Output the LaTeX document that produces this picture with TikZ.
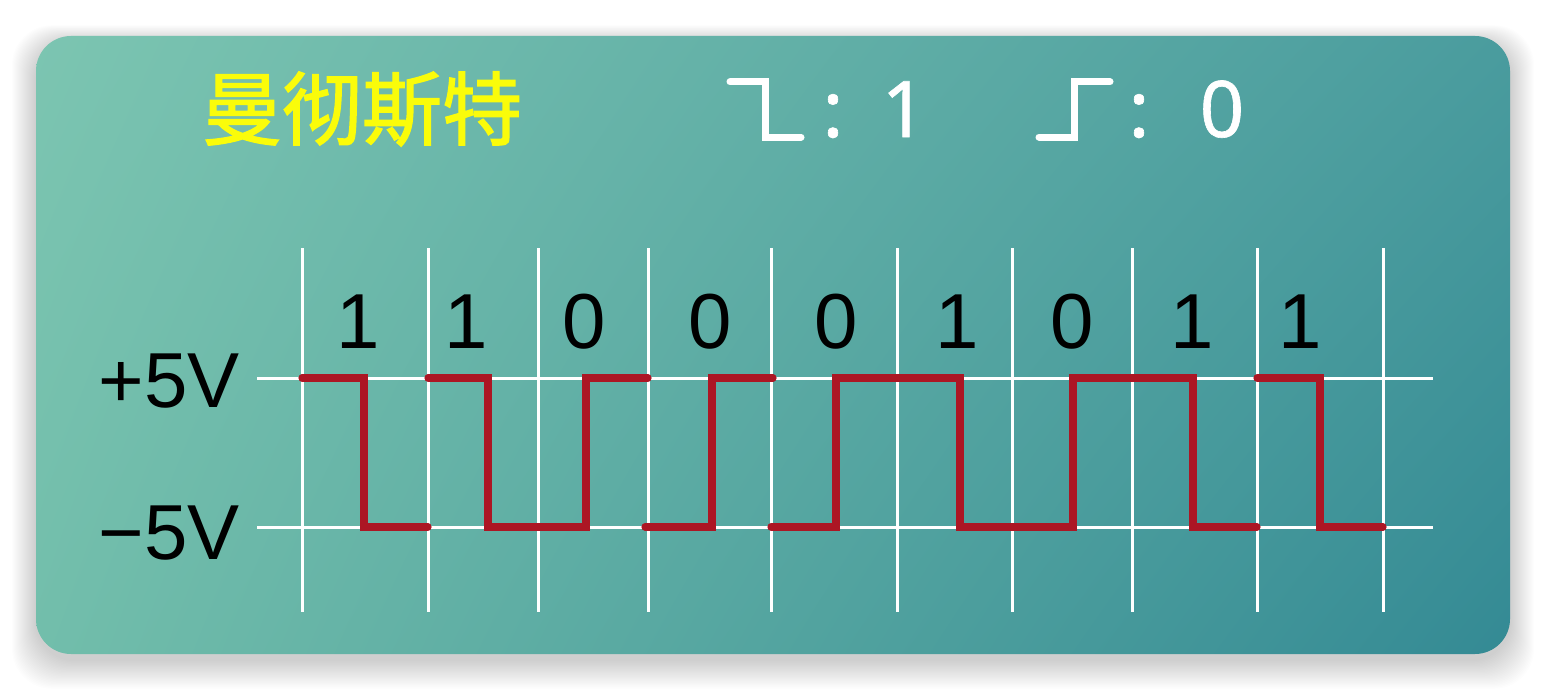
\documentclass[tikz,border=0pt]{standalone}
\usepackage{fontspec}
\usetikzlibrary{shadings}
\setmainfont{Liberation Sans}
\newfontfamily\cjktitle{Noto Sans CJK SC}[FakeBold=1.6]
\newfontfamily\legendfont{Noto Sans}[FakeBold=0.8]
\definecolor{cardTL}{RGB}{124,197,177}
\definecolor{cardTR}{RGB}{74,156,158}
\definecolor{cardBL}{RGB}{114,190,171}
\definecolor{cardBR}{RGB}{52,138,148}
\definecolor{sigred}{RGB}{172,22,36}
\definecolor{titleyellow}{RGB}{250,252,10}
\tikzset{
  gridline/.style={draw=white, line width=1.5pt},
  signal/.style={draw=sigred, line width=3.6pt, line cap=round, line join=miter},
  legendsym/.style={draw=white, line width=3.5pt, line cap=round, line join=miter},
  bitlabel/.style={font=\fontsize{39}{39}\selectfont, text=black, anchor=base, inner sep=0pt},
  voltlabel/.style={font=\fontsize{39}{39}\selectfont, text=black, anchor=base east, inner sep=0pt},
  legendtxt/.style={font=\legendfont\fontsize{39}{39}\selectfont, text=white, anchor=base, inner sep=0pt},
}
\begin{document}
\begin{tikzpicture}[x=0.5pt,y=-0.5pt]
\useasboundingbox (0,0) rectangle (1546,690);
% shadow
\foreach \i in {1,...,24}{
  \fill[black, opacity=0.008, rounded corners=20pt]
    ({36-\i*1.0},{36-\i*0.7+6}) rectangle ({1510+\i*1.0},{654+\i*1.2+6});
}
% card
\shade[upper left=cardTL, upper right=cardTR, lower left=cardBL, lower right=cardBR, rounded corners=17.5pt]
  (36,36) rectangle (1510,654);
% title
\node[font=\cjktitle\fontsize{40}{40}\selectfont, text=titleyellow, inner sep=0pt] (title) at (362,109) {曼彻斯特};
% legend
\coordinate (f1) at (730,82);
\coordinate (f2) at (765,82);
\coordinate (f3) at (765,137);
\coordinate (f4) at (801,137);
\draw[legendsym] (f1) -- (f2) -- (f3) -- (f4);
\node[legendtxt] (fcolon) at (833,137) {:};
\node[legendtxt] (fone) at (904,137) {1};
\coordinate (r1) at (1039,137);
\coordinate (r2) at (1074,137);
\coordinate (r3) at (1074,82);
\coordinate (r4) at (1110,82);
\draw[legendsym] (r1) -- (r2) -- (r3) -- (r4);
\node[legendtxt] (rcolon) at (1139,137) {:};
\node[legendtxt] (rzero) at (1222,137) {0};
% grid
\foreach \x [count=\k] in {302,428,538,648,771,897,1012,1132,1257,1383}{
  \coordinate (vt\k) at (\x,248);
  \coordinate (vb\k) at (\x,612);
  \draw[gridline] (vt\k) -- (vb\k);
}
\coordinate (hpl) at (257,378); \coordinate (hpr) at (1433,378);
\coordinate (hml) at (257,527); \coordinate (hmr) at (1433,527);
\draw[gridline] (hpl) -- (hpr);
\draw[gridline] (hml) -- (hmr);
% voltage labels
\node[voltlabel] (vplus) at (240,407) {+5V};
\node[voltlabel] (vminus) at (240,559) {−5V};
% bit labels
\foreach \x/\b [count=\k] in {358/1,466/1,584/0,710/0,836/0,957/1,1072/0,1192/1,1300/1}{
  \node[bitlabel] (bit\k) at (\x,348) {\b};
}
% waveform
\draw[signal] (302,378) -- (364,378) -- (364,527) -- (428,527);
\draw[signal] (428,378) -- (488,378) -- (488,527) -- (586,527) -- (586,378) -- (648,378);
\draw[signal] (645,527) -- (712,527) -- (712,378) -- (773,378);
\draw[signal] (771,527) -- (836,527) -- (836,378) -- (960,378) -- (960,527) -- (1073,527) -- (1073,378) -- (1193,378) -- (1193,527) -- (1257,527);
\draw[signal] (1257,378) -- (1320,378) -- (1320,527) -- (1383,527);
\end{tikzpicture}
\end{document}
